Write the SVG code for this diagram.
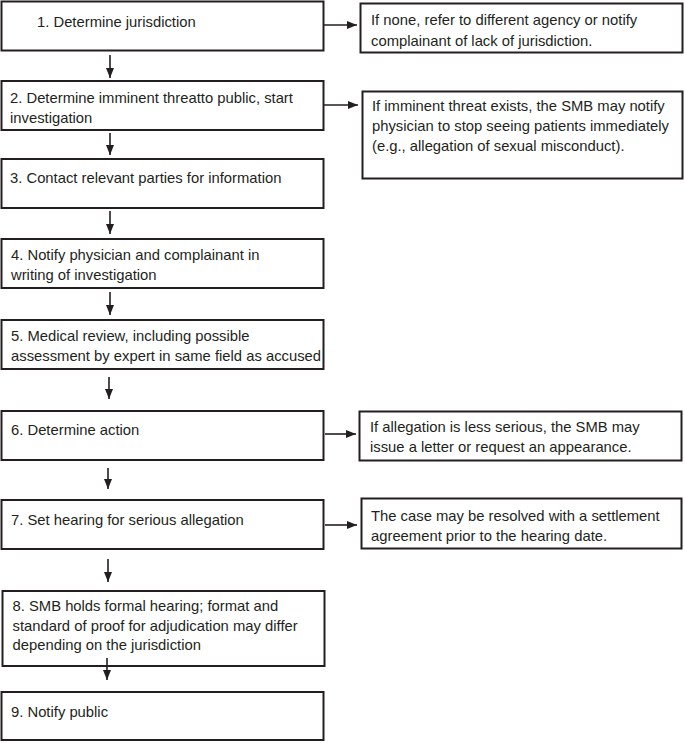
<svg xmlns="http://www.w3.org/2000/svg" width="685" height="743" viewBox="0 0 685 743">
<defs>
<marker id="ah" viewBox="0 0 10 10" refX="10" refY="5" markerWidth="10" markerHeight="10" markerUnits="userSpaceOnUse" orient="auto">
<path d="M0,1 L10,5 L0,9 Z" fill="#231f20"/>
</marker>
<style>
.box{fill:#fff;stroke:#231f20;stroke-width:2}
.t{font-family:"Liberation Sans",Arial,Helvetica,sans-serif;font-size:14.8px;fill:#231f20}
.c{stroke:#231f20;stroke-width:1.6;fill:none;marker-end:url(#ah)}
</style>
</defs>
<rect width="685" height="743" fill="#fff"/>
<g id="n1"><rect class="box" x="1.5" y="1.5" width="322" height="49"/><text class="t" x="37" y="27">1.  Determine jurisdiction</text></g>
<g id="r1"><rect class="box" x="360.5" y="3.5" width="322" height="49"/><text class="t" x="371" y="25">If none, refer to different agency or notify</text><text class="t" x="371" y="45.5">complainant of lack of jurisdiction.</text></g>
<g id="n2"><rect class="box" x="1.5" y="81" width="322" height="49"/><text class="t" x="10" y="103">2. Determine imminent threatto public, start</text><text class="t" x="10" y="122.5">investigation</text></g>
<g id="r2"><rect class="box" x="362.5" y="91.5" width="320" height="87"/><text class="t" x="372" y="111">If imminent threat exists, the SMB may notify</text><text class="t" x="372" y="131">physician to stop seeing patients immediately</text><text class="t" x="372" y="151">(e.g., allegation of sexual misconduct).</text></g>
<g id="n3"><rect class="box" x="1.5" y="159" width="322" height="49"/><text class="t" x="10" y="183">3. Contact relevant parties for information</text></g>
<g id="n4"><rect class="box" x="1.5" y="239" width="322" height="49"/><text class="t" x="11" y="260">4. Notify physician and complainant in</text><text class="t" x="11" y="280">writing of investigation</text></g>
<g id="n5"><rect class="box" x="1.5" y="320" width="322" height="49"/><text class="t" x="11" y="341">5. Medical review, including possible</text><text class="t" x="11" y="361">assessment by expert in same field as accused</text></g>
<g id="n6"><rect class="box" x="1.5" y="411" width="322" height="49"/><text class="t" x="11" y="435">6. Determine action</text></g>
<g id="r3"><rect class="box" x="359.5" y="411.5" width="322" height="49"/><text class="t" x="370" y="432">If allegation is less serious, the SMB may</text><text class="t" x="370" y="452">issue a letter or request an appearance.</text></g>
<g id="n7"><rect class="box" x="1.5" y="500" width="322" height="49"/><text class="t" x="11" y="525">7. Set hearing for serious allegation</text></g>
<g id="r4"><rect class="box" x="361.5" y="498.5" width="320" height="50"/><text class="t" x="371" y="521">The case may be resolved with a settlement</text><text class="t" x="371" y="541">agreement prior to the hearing date.</text></g>
<g id="n8"><rect class="box" x="2.5" y="591" width="322" height="75"/><text class="t" x="12.5" y="611">8. SMB holds formal hearing; format and</text><text class="t" x="12.5" y="630.5">standard of proof for adjudication may differ</text><text class="t" x="12.5" y="650">depending on the jurisdiction</text></g>
<g id="n9"><rect class="box" x="1.5" y="692" width="322" height="48"/><text class="t" x="11" y="717">9. Notify public</text></g>
<g id="connectors">
<line class="c" x1="324" y1="25" x2="357" y2="25"/>
<line class="c" x1="324" y1="105" x2="358" y2="105"/>
<line class="c" x1="325" y1="434" x2="356" y2="434"/>
<line class="c" x1="325" y1="525" x2="357" y2="525"/>
<line class="c" x1="110" y1="55" x2="110" y2="78"/>
<line class="c" x1="110" y1="133" x2="110" y2="155"/>
<line class="c" x1="110" y1="211" x2="110" y2="234"/>
<line class="c" x1="110" y1="292" x2="110" y2="315"/>
<line class="c" x1="109" y1="377" x2="109" y2="399"/>
<line class="c" x1="108" y1="468" x2="108" y2="489"/>
<line class="c" x1="108" y1="559" x2="108" y2="582"/>
<line class="c" x1="107" y1="658" x2="107" y2="680"/>
</g>
</svg>
